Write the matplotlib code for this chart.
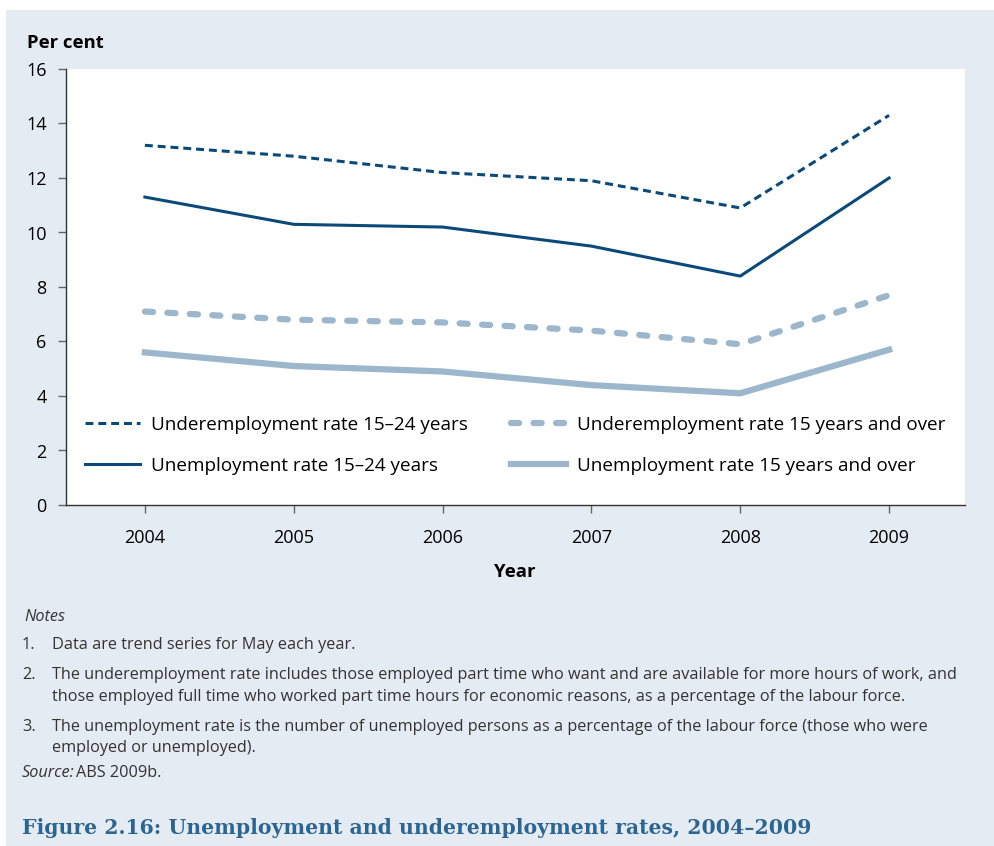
import matplotlib.pyplot as plt
from matplotlib.patches import Rectangle

# Data: ABS trend series, May each year
years = [2004, 2005, 2006, 2007, 2008, 2009]
underemp_15_24 = [13.2, 12.8, 12.2, 11.9, 10.9, 14.3]
unemp_15_24 = [11.3, 10.3, 10.2, 9.5, 8.4, 12.0]
underemp_15_over = [7.1, 6.8, 6.7, 6.4, 5.9, 7.7]
unemp_15_over = [5.6, 5.1, 4.9, 4.4, 4.1, 5.7]

labels = [
    "Underemployment rate 15\u201324 years",
    "Unemployment rate 15\u201324 years",
    "Underemployment rate 15 years and over",
    "Unemployment rate 15 years and over",
]

dark = "#0b4a78"
light = "#9cb6cb"
panel = "#e4ebf2"
font = "Open Sans"

fig = plt.figure(figsize=(9.94, 8.46), dpi=100)
fig.patch.set_facecolor("white")
# light panel behind everything
fig.patches.append(Rectangle((6 / 994, 0), 1, 1 - 10 / 846, transform=fig.transFigure,
                             facecolor=panel, edgecolor="none", zorder=-10))

ax = fig.add_axes([66 / 994, 341 / 846, 899 / 994, 436 / 846])
ax.set_facecolor("white")

l1, = ax.plot(years, underemp_15_24, color=dark, lw=2.2, dashes=(2.6, 1.6))
l2, = ax.plot(years, unemp_15_24, color=dark, lw=2.2)
l3, = ax.plot(years, underemp_15_over, color=light, lw=4.5, dashes=(1.3, 2.3),
              dash_capstyle="round")
l4, = ax.plot(years, unemp_15_over, color=light, lw=4.5)

ax.set_xlim(2003.47, 2009.51)
ax.set_ylim(0, 16)
ax.set_yticks(range(0, 17, 2))
ax.set_xticks(years)

for side in ("top", "right"):
    ax.spines[side].set_visible(False)
for side in ("left", "bottom"):
    ax.spines[side].set_color("#333333")
    ax.spines[side].set_linewidth(1.0)
ax.tick_params(axis="y", length=6, width=1, color="#666666", pad=8, labelsize=13)
ax.tick_params(axis="x", length=6, width=1, color="#666666", pad=11, labelsize=13)
for t in ax.get_xticklabels() + ax.get_yticklabels():
    t.set_fontfamily(font)

leg = ax.legend([l1, l2, l3, l4], labels, ncol=2, loc="upper left",
                bbox_to_anchor=(0.002, 0.243), frameon=False,
                prop={"family": font, "size": 13.6}, handlelength=2.9,
                handletextpad=0.6, columnspacing=2.3, labelspacing=1.2)

fig.text(27 / 994, 1 - 43 / 846, "Per cent", fontsize=13.3, fontweight="bold",
         family=font, ha="left", va="center")
fig.text(515 / 994, 1 - 572 / 846, "Year", fontsize=13.3, fontweight="bold",
         family=font, ha="center", va="center")

# Notes block
note_size = 11.7
ink = "#333333"
fig.text(24 / 994, 1 - 617 / 846, "Notes", fontsize=note_size, style="italic",
         family=font, color=ink, va="center")
notes = [
    ("1.", 645, "Data are trend series for May each year."),
    ("2.", 675, "The underemployment rate includes those employed part time who want and are available for more hours of work, and"),
    ("", 697, "those employed full time who worked part time hours for economic reasons, as a percentage of the labour force."),
    ("3.", 727, "The unemployment rate is the number of unemployed persons as a percentage of the labour force (those who were"),
    ("", 748, "employed or unemployed)."),
]
for num, y, txt in notes:
    if num:
        fig.text(22 / 994, 1 - y / 846, num, fontsize=note_size, family=font,
                 color=ink, va="center")
    fig.text(52 / 994, 1 - y / 846, txt, fontsize=note_size, family=font,
             color=ink, va="center")
fig.text(22 / 994, 1 - 773 / 846, "Source:", fontsize=note_size, style="italic",
         family=font, color=ink, va="center")
fig.text(76 / 994, 1 - 773 / 846, "ABS 2009b.", fontsize=note_size, family=font,
         color=ink, va="center")

fig.text(22 / 994, 1 - 828 / 846,
         "Figure 2.16: Unemployment and underemployment rates, 2004\u20132009",
         fontsize=14.7, fontweight="bold", family="DejaVu Serif", color="#2d6591",
         va="center")

fig.savefig("out.png", dpi=100)
